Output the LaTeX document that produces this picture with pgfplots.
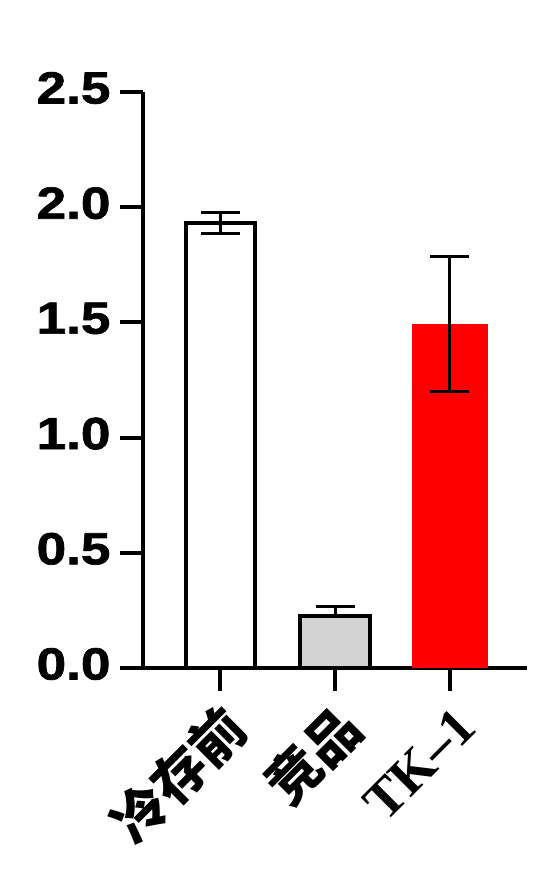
\documentclass[border=0pt]{standalone}
\usepackage{fontspec}
\usepackage{pgfplots}
\pgfplotsset{compat=1.18}
\newfontfamily\tickfont{Liberation Sans}[FakeStretch=1.18, BoldFeatures={FakeBold=1.5}]
\newfontfamily\cjk{Noto Sans CJK SC}
\newfontfamily\serif{Liberation Serif}
\begin{document}
\begin{tikzpicture}
\useasboundingbox (0,0) rectangle (558pt,894pt);
\begin{axis}[
  at={(143pt,226pt)}, anchor=south west,
  scale only axis, width=384pt, height=576pt,
  xmin=-0.67, xmax=2.67, ymin=0, ymax=2.5,
  axis lines=left, axis line style={-, line width=4pt, black},
  tick align=outside, major tick length=23pt,
  tick style={line width=4pt, black},
  xtick={0,1,2},
  xticklabels={{\cjk\bfseries 冷存前},{\cjk\bfseries 竞品},{\serif\bfseries TK–1}},
  ytick={0,0.5,1,1.5,2,2.5},
  yticklabel style={font=\tickfont\bfseries\fontsize{45}{45}\selectfont, xshift=-6pt, yshift=4pt},
  yticklabels={0.0,0.5,1.0,1.5,2.0,2.5},
  xticklabel style={rotate=45, anchor=east, font=\fontsize{54}{54}\selectfont, yshift=-30pt, xshift=-4pt},
  ybar,
]
\addplot[ybar, bar shift=0pt, bar width=69pt, fill=white, draw=black, line width=4pt,
  error bars/.cd, y dir=both, y explicit,
  error bar style={line width=3pt, black},
  error mark options={rotate=90, line width=3pt, mark size=19.5pt, black}]
  coordinates {(0,1.933) +- (0,0.045)};
\addplot[ybar, bar shift=0pt, bar width=70pt, fill={rgb,255:red,211;green,211;blue,211}, draw=black, line width=4pt,
  error bars/.cd, y dir=plus, y explicit,
  error bar style={line width=3pt, black},
  error mark options={rotate=90, line width=3pt, mark size=19.5pt, black}]
  coordinates {(1,0.225) +- (0,0.04)};
\addplot[ybar, bar shift=0pt, bar width=76pt, fill=red, draw=none,
  error bars/.cd, y dir=both, y explicit,
  error bar style={line width=3pt, black},
  error mark options={rotate=90, line width=3pt, mark size=19.5pt, black}]
  coordinates {(2,1.495) +- (0,0.293)};
\end{axis}
\end{tikzpicture}
\end{document}
